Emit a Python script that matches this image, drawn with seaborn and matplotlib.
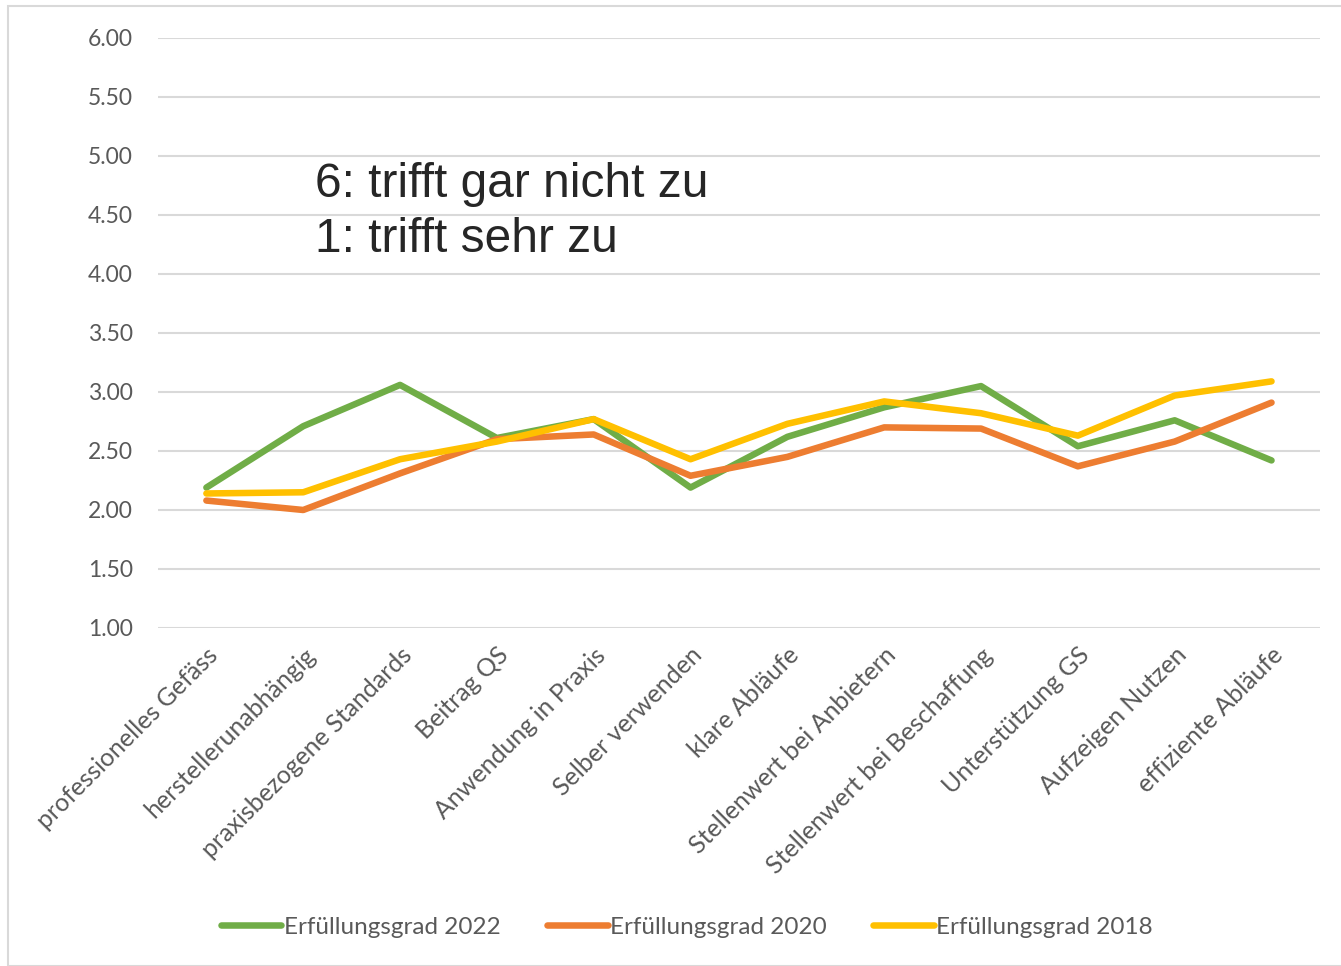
import pandas as pd
import seaborn as sns
import matplotlib.pyplot as plt
from matplotlib.patches import Rectangle

# Data
kategorien = [
    "professionelles Gefäss", "herstellerunabhängig", "praxisbezogene Standards",
    "Beitrag QS", "Anwendung in Praxis", "Selber verwenden", "klare Abläufe",
    "Stellenwert bei Anbietern", "Stellenwert bei Beschaffung", "Unterstützung GS",
    "Aufzeigen Nutzen", "effiziente Abläufe",
]
werte_2022 = [2.19, 2.71, 3.06, 2.61, 2.77, 2.19, 2.62, 2.87, 3.05, 2.54, 2.76, 2.42]
werte_2020 = [2.08, 2.00, 2.31, 2.60, 2.64, 2.29, 2.45, 2.70, 2.69, 2.37, 2.58, 2.91]
werte_2018 = [2.14, 2.15, 2.43, 2.58, 2.77, 2.43, 2.73, 2.92, 2.82, 2.63, 2.97, 3.09]
y_ticks = [1.0, 1.5, 2.0, 2.5, 3.0, 3.5, 4.0, 4.5, 5.0, 5.5, 6.0]

df = pd.DataFrame({
    "Kategorie": kategorien * 3,
    "Wert": werte_2022 + werte_2020 + werte_2018,
    "Serie": ["Erfüllungsgrad 2022"] * 12 + ["Erfüllungsgrad 2020"] * 12
             + ["Erfüllungsgrad 2018"] * 12,
})

sns.set_style("white")
plt.rcParams["font.family"] = ["Lato", "DejaVu Sans"]

fig = plt.figure(figsize=(13.41, 9.66), dpi=100)
ax = fig.add_axes([0.1178, 0.3499, 0.8665, 0.6108])

farben = {"Erfüllungsgrad 2022": "#70AD47",
          "Erfüllungsgrad 2020": "#ED7D31",
          "Erfüllungsgrad 2018": "#FFC000"}
sns.lineplot(data=df, x="Kategorie", y="Wert", hue="Serie", palette=farben,
             sort=False, linewidth=4.7, ax=ax, legend=True)

ax.set_ylim(1.0, 6.0)
ax.set_xlim(-0.5, len(kategorien) - 0.5)
ax.set_yticks(y_ticks)
ax.set_yticklabels([f"{v:.2f}" for v in y_ticks])
ax.yaxis.grid(True, color="#D9D9D9", linewidth=1.5, zorder=0)
ax.set_axisbelow(True)
for s in ax.spines.values():
    s.set_visible(False)
ax.tick_params(axis="y", length=0, pad=18, labelsize=16.5, labelcolor="#595959")
ax.tick_params(axis="x", length=0, pad=11, labelsize=18, labelcolor="#595959")
plt.setp(ax.get_xticklabels(), rotation=45, ha="right", rotation_mode="anchor")
ax.set_xlabel("")
ax.set_ylabel("")

ax.text(0.135, 0.705, "6: trifft gar nicht zu\n1: trifft sehr zu",
        transform=ax.transAxes, fontsize=34.5, family="Liberation Sans",
        va="center", ha="left", linespacing=1.27)

leg = ax.legend(loc="center", bbox_to_anchor=(0.455, -0.507), ncol=3,
                frameon=False, fontsize=17.5, handlelength=2.5,
                handletextpad=0.1, columnspacing=1.9)
for t in leg.get_texts():
    t.set_color("#595959")
for h in leg.get_lines():
    h.set_linewidth(4.7)

fig.patches.append(Rectangle((8 / 1341, 0), 1, 1 - 6 / 966, transform=fig.transFigure,
                             fill=False, edgecolor="#D9D9D9", linewidth=1.5))

fig.savefig("out.png", dpi=100)
